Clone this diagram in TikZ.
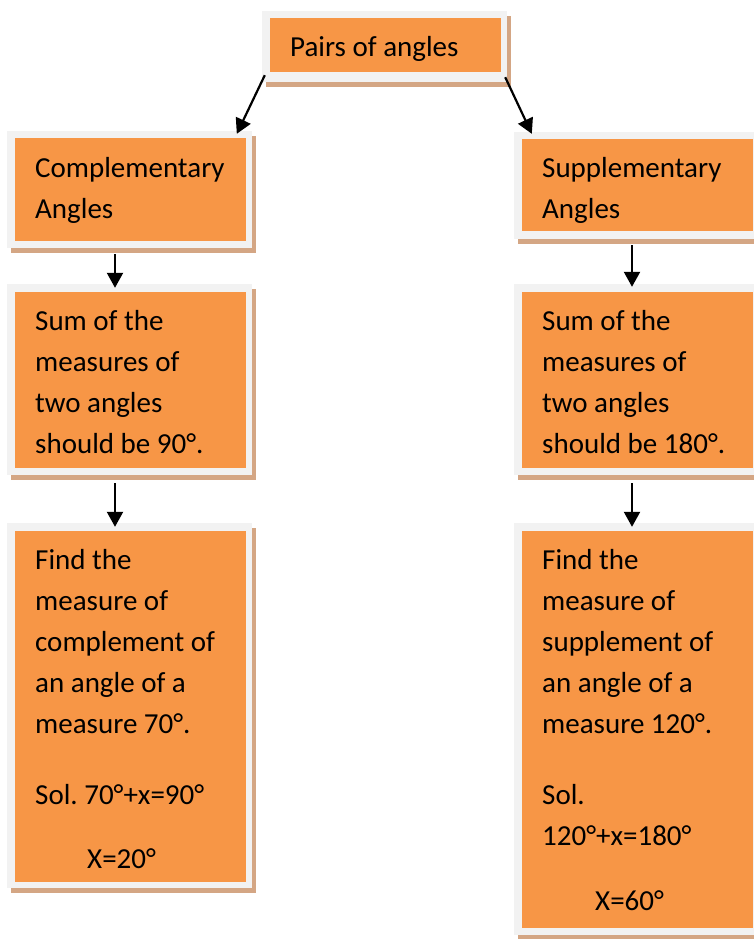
\documentclass[tikz,border=0pt]{standalone}
\usepackage{fontspec}
\setmainfont{Carlito}
\frenchspacing
\usetikzlibrary{arrows.meta,shadows,calc}
\definecolor{boxorange}{RGB}{247,150,70}
\definecolor{boxgray}{RGB}{242,242,242}
\definecolor{boxshadow}{RGB}{212,166,132}
\tikzset{
  graybox/.style={fill=boxgray, draw=none, inner sep=0pt,
    drop shadow={shadow xshift=4pt, shadow yshift=-5pt, fill=boxshadow, opacity=1}},
  orangebox/.style={fill=boxorange, draw=none, inner sep=0pt},
  boxtext/.style={anchor=base west, inner sep=0pt, font=\fontsize{29}{41}\selectfont},
  arr/.style={line width=2.2pt, -{Triangle[length=15pt,width=16pt]}}
}
\newcommand{\boxlines}[1]{\parbox[t]{225pt}{\raggedright\fontsize{29}{41}\selectfont #1}}
\begin{document}
\begin{tikzpicture}[x=1pt,y=-1pt]
\useasboundingbox (0,0) rectangle (754,939);
\clip (0,0) rectangle (754,939);
% top
\node[graybox, minimum width=245pt, minimum height=71pt] (topg) at (384.5,46.5) {};
\node[orangebox, minimum width=231pt, minimum height=54pt] (topo) at (385.5,45) {};
\node[boxtext] (toptext) at (290,57) {Pairs of angles};
% left column
\node[graybox, minimum width=245pt, minimum height=117pt] (compg) at (129.5,189.5) {};
\node[orangebox, minimum width=231pt, minimum height=103pt] (compo) at (130.5,189.5) {};
\node[boxtext] (comptext) at (35,177) {\boxlines{Complementary\\Angles}};
\node[graybox, minimum width=245pt, minimum height=191pt] (lsumg) at (129.5,379.5) {};
\node[orangebox, minimum width=231pt, minimum height=176pt] (lsumo) at (130.5,380) {};
\node[boxtext] (lsumtext) at (35,330) {\boxlines{Sum of the\\measures of\\two angles\\should be 90°.}};
\node[graybox, minimum width=245pt, minimum height=365pt] (lfindg) at (129.5,705.5) {};
\node[orangebox, minimum width=231pt, minimum height=351pt] (lfindo) at (130.5,706.5) {};
\node[boxtext] (lfindtext) at (35,569) {\boxlines{Find the\\measure of\\complement of\\an angle of a\\measure 70°.\\[30pt]Sol. 70°+x=90°\\[23pt]\hspace*{52pt}X=20°}};
% right column
\node[graybox, minimum width=245pt, minimum height=107pt] (suppg) at (636.5,185.5) {};
\node[orangebox, minimum width=231pt, minimum height=92pt] (suppo) at (637.5,185) {};
\node[boxtext] (supptext) at (542,177) {\boxlines{Supplementary\\Angles}};
\node[graybox, minimum width=245pt, minimum height=191pt] (rsumg) at (636.5,379.5) {};
\node[orangebox, minimum width=231pt, minimum height=176pt] (rsumo) at (637.5,380) {};
\node[boxtext] (rsumtext) at (542,330) {\boxlines{Sum of the\\measures of\\two angles\\should be 180°.}};
\node[graybox, minimum width=245pt, minimum height=412pt] (rfindg) at (636.5,729) {};
\node[orangebox, minimum width=231pt, minimum height=397pt] (rfindo) at (637.5,729.5) {};
\node[boxtext] (rfindtext) at (542,569) {\boxlines{Find the\\measure of\\supplement of\\an angle of a\\measure 120°.\\[30pt]Sol.\\120°+x=180°\\[24pt]\hspace*{53pt}X=60°}};
% connectors
\draw[arr] ($(topg.south west)+(3,-7)$) -- ($(compg.north west)+(230,3)$);
\draw[arr] ($(topg.south east)+(-2,-5)$) -- ($(suppg.north west)+(18,2)$);
\draw[arr] ($(compg.south)+(-14.5,6)$) -- ($(lsumg.north)+(-14.5,4)$);
\draw[arr] ($(lsumg.south)+(-14.5,8)$) -- ($(lfindg.north)+(-14.5,4)$);
\draw[arr] ($(suppg.south)+(-4.5,6)$) -- ($(rsumg.north)+(-4.5,3)$);
\draw[arr] ($(rsumg.south)+(-4.5,8)$) -- ($(rfindg.north)+(-4.5,4)$);
\end{tikzpicture}
\end{document}
